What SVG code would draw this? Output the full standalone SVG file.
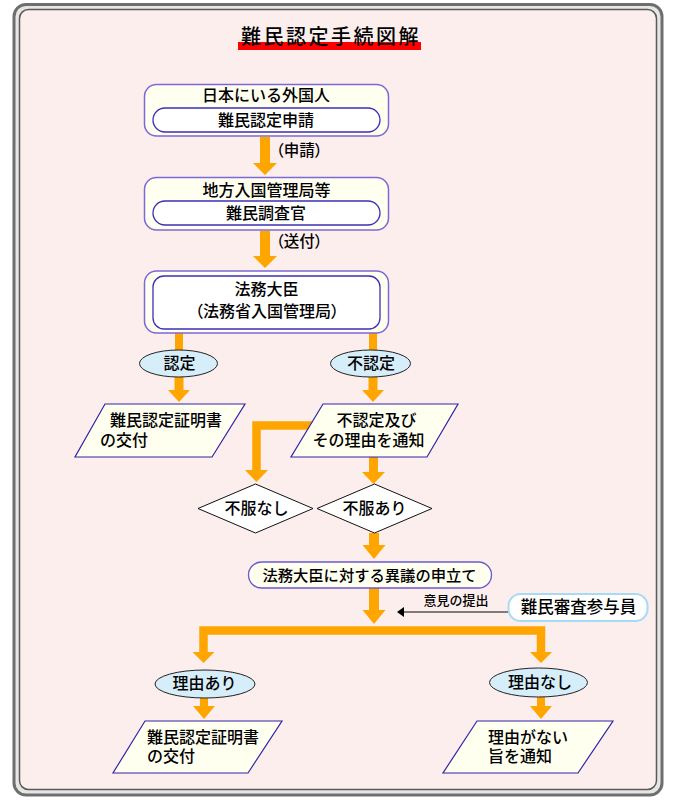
<svg xmlns="http://www.w3.org/2000/svg" width="673" height="806" viewBox="0 0 673 806">
<style>
text{font-family:"Noto Sans CJK JP","Noto Sans CJK SC",sans-serif;font-size:16px;font-weight:500;fill:#000}
.c{text-anchor:middle}
.p{font-feature-settings:"palt"}
.box{fill:#FFFFF0;stroke:#7E67D6;stroke-width:1.5}
.pill{fill:#FFFFFF;stroke:#3D2FB8;stroke-width:1.3}
.para{fill:#FFFFF0;stroke:#3322AA;stroke-width:1.2}
.ell{fill:#D6EEFA;stroke:#222;stroke-width:1}
.dia{fill:#FFFFFF;stroke:#111;stroke-width:1}
.arr{fill:#FFA500}
.bar{fill:none;stroke:#FFA500;stroke-width:8.5;stroke-linejoin:miter}
</style>
<g id="frame">
<rect x="14" y="4.5" width="648" height="790.5" rx="12" fill="#e6e6e6" stroke="#6e6e6e" stroke-width="3"/>
<rect x="19.5" y="9.5" width="637" height="780" rx="9" fill="#FDEEEE" stroke="#5a5a5a" stroke-width="1.5"/>
</g>
<g id="title">
<rect x="238" y="42" width="183" height="8" fill="#FF0000"/>
<text x="241" y="44" style="font-size:20px;letter-spacing:2.5px">難民認定手続図解</text>
</g>
<g id="connectors">
<polygon class="arr" points="260,137 270,137 270,163 277,163 265,175 253,163 260,163"/>
<polygon class="arr" points="260,231 270,231 270,256 277,256 265,268 253,256 260,256"/>
<rect class="arr" x="175" y="332" width="8" height="22"/>
<rect class="arr" x="369" y="332" width="8" height="22"/>
<polygon class="arr" points="174.5,376 183.5,376 183.5,390 190,390 179,402 168,390 174.5,390"/>
<polygon class="arr" points="368.5,376 377.5,376 377.5,390 384,390 373,402 362,390 368.5,390"/>
<path class="bar" d="M315,425.5 H256.5 V471"/>
<polygon class="arr" points="245,470 268,470 256.5,482"/>
<polygon class="arr" points="369,456 378,456 378,472 385,472 373.5,484 362,472 369,472"/>
<polygon class="arr" points="369,533 379,533 379,545 385.5,545 374,559 362.5,545 369,545"/>
<polygon class="arr" points="369,588 379,588 379,610 385.5,610 374,624 362.5,610 369,610"/>
<path class="bar" d="M203.5,653 V630.5 H541 V653"/>
<polygon class="arr" points="192.5,652 214.5,652 203.5,663"/>
<polygon class="arr" points="530,652 552,652 541,663"/>
<polygon class="arr" points="200,697 208,697 208,706 215,706 204,719 193,706 200,706"/>
<polygon class="arr" points="537,697 545,697 545,706 552,706 541,719 530,706 537,706"/>
<line x1="509" y1="612" x2="402" y2="612" stroke="#555" stroke-width="1.6"/>
<polygon points="397,612 404,607 404,617" fill="#000"/>
<text class="c" x="456" y="605" style="font-size:13px">意見の提出</text>
<text class="p" x="276" y="156" style="font-size:15.5px">（申請）</text>
<text class="p" x="276" y="247" style="font-size:15.5px">（送付）</text>
</g>
<g id="n1">
<rect class="box" x="144.5" y="84.5" width="244" height="51.5" rx="12"/>
<rect class="pill" x="153" y="108" width="227" height="24" rx="12"/>
<text class="c" x="266" y="101">日本にいる外国人</text>
<text class="c" x="266" y="125.5">難民認定申請</text>
</g>
<g id="n2">
<rect class="box" x="144.5" y="177.5" width="244" height="52.5" rx="12"/>
<rect class="pill" x="153" y="201" width="227" height="24" rx="12"/>
<text class="c" x="266.5" y="195.5">地方入国管理局等</text>
<text class="c" x="266" y="218.5">難民調査官</text>
</g>
<g id="n3">
<rect class="box" x="144.5" y="271" width="244" height="62" rx="12"/>
<rect class="pill" x="153" y="276" width="227" height="53" rx="11"/>
<text class="c" x="266.5" y="294.5">法務大臣</text>
<text class="c p" x="267" y="317">（法務省入国管理局）</text>
</g>
<g id="nintei">
<ellipse class="ell" cx="178.5" cy="363.5" rx="39" ry="13.5"/>
<text class="c" x="179.5" y="368.5">認定</text>
</g>
<g id="funintei">
<ellipse class="ell" cx="370.5" cy="363.5" rx="40" ry="13.5"/>
<text class="c" x="371" y="368.5">不認定</text>
</g>
<g id="kofu1">
<polygon class="para" points="105,404 245,404 212,457 75,457"/>
<text><tspan x="110" y="426">難民認定証明書</tspan><tspan x="100" y="446">の交付</tspan></text>
</g>
<g id="tsuchi1">
<polygon class="para" points="323,404 458,404 427,457 291,457"/>
<text class="c"><tspan x="376.5" y="426">不認定及び</tspan><tspan x="368.5" y="446">その理由を通知</tspan></text>
</g>
<g id="fufuku-nashi">
<polygon class="dia" points="255.5,484 313,508.5 255.5,533 198,508.5"/>
<text class="c" x="256.5" y="514">不服なし</text>
</g>
<g id="fufuku-ari">
<polygon class="dia" points="374.5,484 432,508.5 374.5,533 317,508.5"/>
<text class="c" x="374.5" y="514">不服あり</text>
</g>
<g id="igi">
<rect x="248.5" y="562" width="243" height="26" rx="13" fill="#FFFFF0" stroke="#6A5ACD" stroke-width="1.3"/>
<text class="c" x="369.5" y="580.5" style="font-size:15.3px">法務大臣に対する異議の申立て</text>
</g>
<g id="sanyoin">
<rect x="508.5" y="594" width="139" height="27" rx="12" fill="#FFFFFF" stroke="#A5DCF3" stroke-width="2"/>
<text class="c" x="578.5" y="613" style="font-size:16.5px">難民審査参与員</text>
</g>
<g id="riyu-ari">
<ellipse class="ell" cx="205" cy="684" rx="50" ry="14"/>
<text class="c" x="204.5" y="688.5">理由あり</text>
</g>
<g id="riyu-nashi">
<ellipse class="ell" cx="538.5" cy="682.5" rx="49" ry="14.5"/>
<text class="c" x="540" y="688">理由なし</text>
</g>
<g id="kofu2">
<polygon class="para" points="145,721 282,721 248,773 113,773"/>
<text><tspan x="147" y="743">難民認定証明書</tspan><tspan x="147" y="762">の交付</tspan></text>
</g>
<g id="tsuchi2">
<polygon class="para" points="477,721 613,721 578,773 443,773"/>
<text><tspan x="488" y="743">理由がない</tspan><tspan x="488" y="762">旨を通知</tspan></text>
</g>
</svg>
